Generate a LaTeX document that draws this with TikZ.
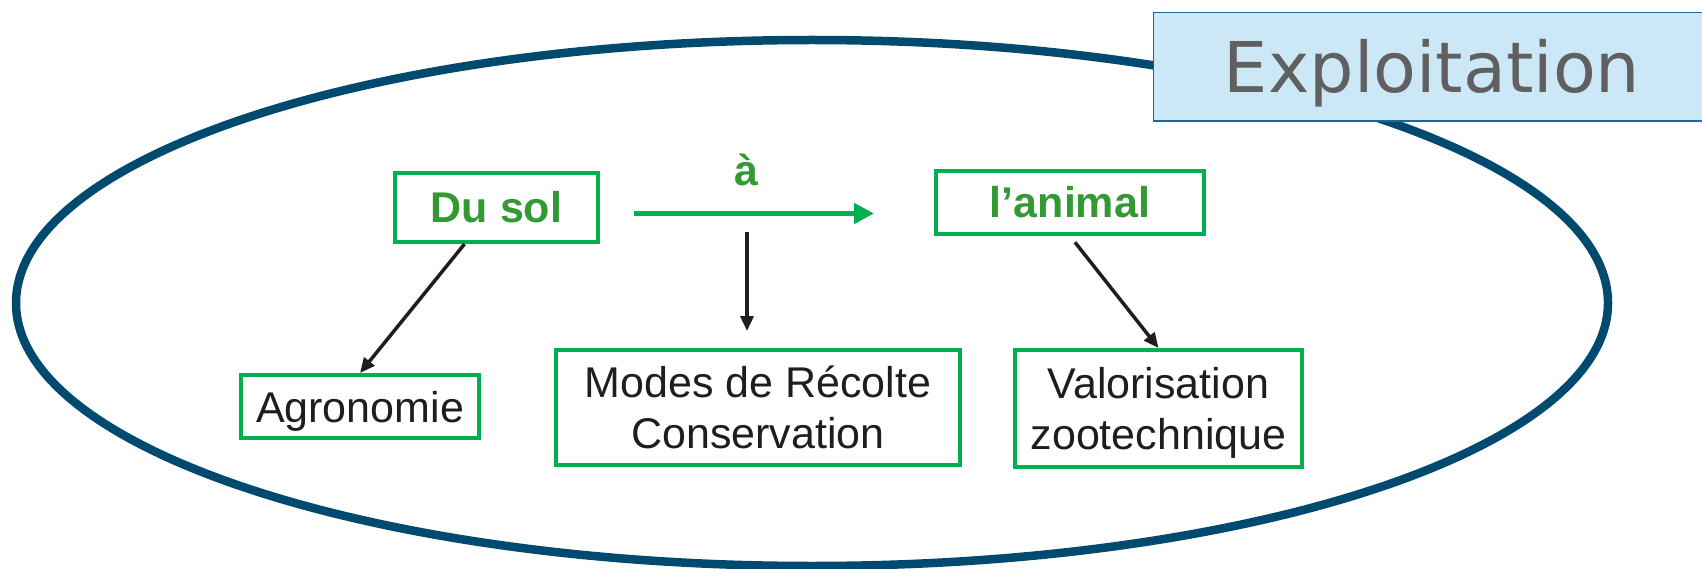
\documentclass[tikz,border=0pt]{standalone}
\usepackage{fontspec}
\usetikzlibrary{arrows.meta}
\newfontfamily\labelfont{Liberation Sans}
\newfontfamily\titlefont{DejaVu Sans}
\definecolor{ringblue}{RGB}{0,74,112}
\definecolor{boxgreen}{RGB}{0,176,80}
\definecolor{leafgreen}{RGB}{51,153,51}
\definecolor{paleblue}{RGB}{204,232,246}
\definecolor{edgeblue}{RGB}{25,105,155}
\definecolor{titlegray}{RGB}{96,96,96}
\definecolor{inkblack}{RGB}{30,30,30}
\begin{document}
\begin{tikzpicture}[x=1pt,y=-1pt,
  plainbox/.style={draw=boxgreen, line width=4pt, inner sep=0pt,
    font=\labelfont\fontsize{43}{51}\selectfont, text=inkblack},
  keybox/.style={plainbox, font=\labelfont\bfseries\fontsize{43}{51}\selectfont, text=leafgreen},
  oneline/.style={text height=31pt, text depth=0pt},
  titlebox/.style={draw=edgeblue, fill=paleblue, line width=1.5pt, inner sep=0pt,
    font=\titlefont\fontsize{70}{80}\selectfont, text=titlegray,
    text height=51pt, text depth=0pt},
  flowarrow/.style={draw=boxgreen, line width=5pt, -{Triangle[length=20pt,width=20pt]}},
  linkarrow/.style={draw=inkblack, line width=3.5pt, -{Triangle[length=15pt,width=13pt]}},
  ring/.style={draw=ringblue, line width=8.5pt}
]
\useasboundingbox (0,0) rectangle (1702,569);

% outer boundary of the farm
\draw[ring] (812,303) ellipse [x radius=796pt, y radius=263pt];

% title tab
\node[titlebox, minimum width=557pt, minimum height=108.5pt] (expl) at (1432,67) {Exploitation};

% main chain
\node[keybox, oneline, minimum width=203pt, minimum height=69pt] (dusol) at (496.5,207.5) {Du sol};
\node[keybox, oneline, minimum width=268pt, minimum height=63pt] (animal) at (1070,202.5) {l’animal};
\node[inner sep=0pt, anchor=base, text=leafgreen,
  font=\labelfont\bfseries\fontsize{43}{51}\selectfont] (to) at (746,186) {à};

% disciplines
\node[plainbox, oneline, minimum width=238pt, minimum height=63pt] (agro) at (360,406.5) {Agronomie};
\node[plainbox, align=center, minimum width=404pt, minimum height=115pt] (modes) at (758,407.5)
  {Modes de Récolte\\Conservation};
\node[plainbox, align=center, minimum width=287pt, minimum height=117pt] (valo) at (1158.5,408.5)
  {Valorisation\\zootechni\smash{q}ue};

% connectors
\coordinate (g0) at (634,213.5);
\draw[flowarrow, shorten >=60pt] (g0) -- (g0 -| animal.west);

\coordinate (d0) at (747,232);
\draw[linkarrow, shorten >=17pt] (d0) -- (d0 |- modes.north);

\draw[linkarrow] ([xshift=-32pt]dusol.south) -- (agro.north);
\draw[linkarrow, shorten <=8pt] (animal.south) -- (valo.north);
\end{tikzpicture}
\end{document}
